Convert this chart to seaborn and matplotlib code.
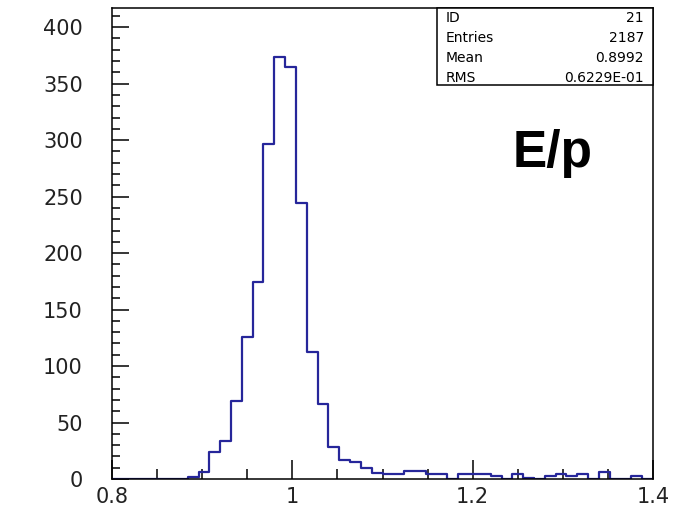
import numpy as np
import pandas as pd
import matplotlib
matplotlib.use("Agg")
import matplotlib.pyplot as plt
from matplotlib.ticker import MultipleLocator, FixedLocator
from matplotlib.patches import Rectangle
import seaborn as sns

# E/p distribution: 50 bins of width 0.012 between 0.8 and 1.4
bin_low = 0.8
bin_high = 1.4
n_bins = 50
counts = [0, 0, 0, 0, 0, 0, 0, 2, 6, 24,
          34, 69, 126, 174, 297, 374, 365, 244, 112, 66,
          28, 17, 15, 10, 5, 4, 4, 7, 7, 4,
          4, 0, 4, 4, 4, 3, 0, 4, 1, 0,
          3, 4, 3, 4, 0, 6, 0, 0, 3, 0]

x_ticks = [0.8, 1.0, 1.2, 1.4]
x_tick_labels = ["0.8", "1", "1.2", "1.4"]
y_ticks = [0, 50, 100, 150, 200, 250, 300, 350, 400]
y_tick_labels = ["0", "50", "100", "150", "200", "250", "300", "350", "400"]

stats_labels = ["ID", "Entries", "Mean", "RMS"]
stats_values = ["21", "2187", "0.8992", "0.6229E-01"]
panel_label = "E/p"

edges = np.linspace(bin_low, bin_high, n_bins + 1)
centers = 0.5 * (edges[:-1] + edges[1:])
df = pd.DataFrame({"ep": centers, "n": counts})

sns.set_style("ticks")
plt.rcParams["font.family"] = ["DejaVu Sans"]

W, H = 691, 519
fig = plt.figure(figsize=(W / 100, H / 100), dpi=100)
ax_l, ax_r, ax_t, ax_b = 112, 653, 8, 479
ax = fig.add_axes([ax_l / W, 1 - ax_b / H, (ax_r - ax_l) / W, (ax_b - ax_t) / H])

line_color = "#26269a"
sns.histplot(data=df, x="ep", weights="n", bins=n_bins,
             binrange=(bin_low, bin_high), element="step",
             fill=False, color=line_color, linewidth=1.6, ax=ax)

ax.set_xlim(bin_low, bin_high)
ax.set_ylim(0, 417)
ax.set_xlabel("")
ax.set_ylabel("")

for s in ax.spines.values():
    s.set_visible(True)
    s.set_color("black")
    s.set_linewidth(1.1)

ax.xaxis.set_major_locator(FixedLocator(x_ticks))
ax.set_xticklabels(x_tick_labels)
ax.xaxis.set_minor_locator(MultipleLocator(0.05))
ax.yaxis.set_major_locator(FixedLocator(y_ticks))
ax.set_yticklabels(y_tick_labels)
ax.yaxis.set_minor_locator(MultipleLocator(10))

ax.tick_params(axis="x", which="major", direction="in", length=14, width=1.1,
               color="black", labelsize=15, pad=6, top=False)
ax.tick_params(axis="x", which="minor", direction="in", length=7, width=1.1,
               color="black", top=False)
ax.tick_params(axis="y", which="major", direction="in", length=12.5, width=1.1,
               color="black", labelsize=15, pad=21, right=False)
ax.tick_params(axis="y", which="minor", direction="in", length=5.5, width=1.1,
               color="black", right=False)
for lab in ax.get_xticklabels() + ax.get_yticklabels():
    lab.set_color("#222222")

# statistics box in the upper right corner
bx0, bx1, by0, by1 = 437, 653, 8, 85
box = Rectangle((bx0 / W, 1 - by1 / H), (bx1 - bx0) / W, (by1 - by0) / H,
                transform=fig.transFigure, facecolor="white",
                edgecolor="black", linewidth=1.1, zorder=5)
fig.add_artist(box)
row_y = [18, 38.5, 58, 77.5]
for lab, val, yy in zip(stats_labels, stats_values, row_y):
    fig.text(446 / W, 1 - yy / H, lab, ha="left", va="center",
             fontsize=10, color="black", zorder=6)
    fig.text(644 / W, 1 - yy / H, val, ha="right", va="center",
             fontsize=10, color="black", zorder=6)

fig.text(513 / W, 1 - 167 / H, panel_label, ha="left", va="baseline",
         fontsize=37, fontweight="bold", family=["Liberation Sans", "DejaVu Sans"],
         color="black")

fig.savefig("out.png", dpi=100, facecolor="white")
